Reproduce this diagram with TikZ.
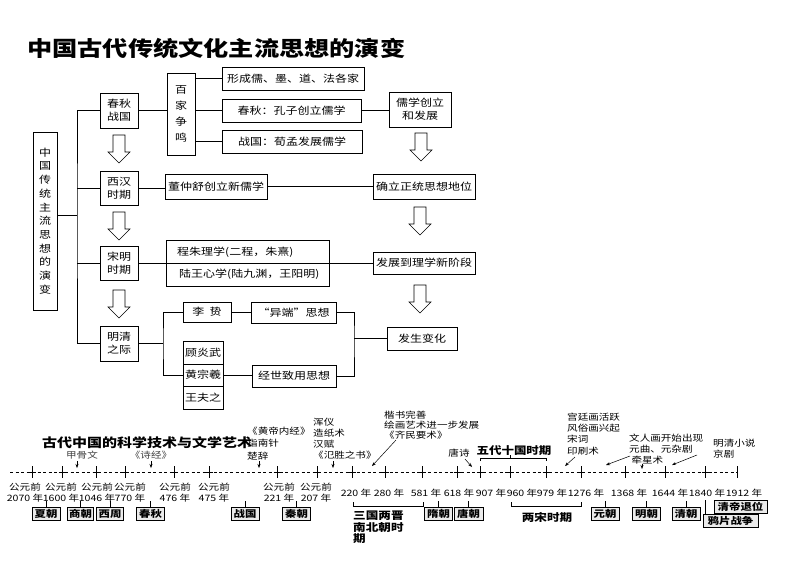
\documentclass[tikz,border=0pt]{standalone}
\usepackage{fontspec}
\setmainfont{Noto Sans CJK SC}[FakeStretch=1.2]
\usetikzlibrary{arrows.meta}
\newcommand\fsz[2]{\fontsize{#1}{#2}\selectfont}
\begin{document}
\begin{tikzpicture}[x=1pt,y=-1pt,
  box/.style={draw,line width=0.6pt,inner sep=0pt,align=center,font=\fsz{10}{13}},
  ln/.style={line width=0.6pt},
  dyn/.style={draw,line width=0.8pt,fill=black!8,inner sep=0pt,minimum height=13pt,font=\bfseries\fsz{9.5}{11}},
  yrs/.style={align=center,inner sep=0pt,font=\fsz{8.8}{11}},
  ann/.style={align=left,inner sep=0pt,anchor=north west},
  tarr/.style={-{Stealth[length=4pt,width=3pt]},line width=0.5pt},
  harrow/.pic={\draw[line width=0.6pt,fill=white] (-6,0) -- (6,0) -- (6,17) -- (11,17) -- (0,28) -- (-11,17) -- (-6,17) -- cycle;}
]
\fill[white] (0,0) rectangle (800,566);
\useasboundingbox (0,0) rectangle (800,566);

% ---------- title ----------
\node[anchor=west,inner sep=0pt,font=\bfseries\fsz{21}{24}] (title) at (27,48) {中国古代传统文化主流思想的演变};

% ---------- flowchart ----------
\node[box,minimum width=24pt,minimum height=178pt,font=\fsz{10}{13.7}] (L) at (45,221) {中\\国\\传\\统\\主\\流\\思\\想\\的\\演\\变};
\node[box,minimum width=38pt,minimum height=35pt] (CQ) at (119,110.5) {春秋\\战国};
\node[box,minimum width=38pt,minimum height=34pt] (XH) at (119,188) {西汉\\时期};
\node[box,minimum width=38pt,minimum height=34pt] (SM) at (119,263) {宋明\\时期};
\node[box,minimum width=38pt,minimum height=35pt] (MQ) at (119,343.5) {明清\\之际};

\pic at (119,135) {harrow};
\pic at (119,212) {harrow};
\pic at (119,290) {harrow};

\node[box,minimum width=28pt,minimum height=82pt,font=\fsz{10}{16}] (BJ) at (181,114) {百\\家\\争\\鸣};
\node[box,minimum width=142pt,minimum height=23pt] (B1) at (293,78.5) {形成儒、墨、道、法各家};
\node[box,minimum width=139pt,minimum height=23pt] (B2) at (291.5,110.5) {春秋：孔子创立儒学};
\node[box,minimum width=140pt,minimum height=23pt] (B3) at (292,141.5) {战国：荀孟发展儒学};
\node[box,minimum width=62pt,minimum height=35pt] (RX) at (420,109.5) {儒学创立\\和发展};
\pic at (421,133) {harrow};

\node[box,minimum width=102pt,minimum height=25pt] (DZ) at (216,186.5) {董仲舒创立新儒学};
\node[box,minimum width=102pt,minimum height=25pt] (QL) at (424,186.5) {确立正统思想地位};
\pic at (420,207) {harrow};

\node[box,minimum width=163pt,minimum height=46pt] (CZ) at (247.5,263) {};
\node[anchor=west,inner sep=0pt,font=\fsz{10}{13}] (cz1) at (177,252) {程朱理学(二程，朱熹)};
\node[anchor=west,inner sep=0pt,font=\fsz{10}{13}] (cz2) at (179,274) {陆王心学(陆九渊，王阳明)};
\node[box,minimum width=102pt,minimum height=22pt] (FZ) at (424,263) {发展到理学新阶段};
\pic at (420,285) {harrow};

\node[box,minimum width=70pt,minimum height=23pt] (FS) at (422,338.5) {发生变化};
\node[box,minimum width=48pt,minimum height=20pt] (LZ) at (207,312) {李\ \ 贽};
\node[box,minimum width=85pt,minimum height=21pt] (YD) at (293.5,312.5) {“异端”思想};
\node[box,minimum width=40pt,minimum height=23pt] (GY) at (203,352.5) {顾炎武};
\node[box,minimum width=40pt,minimum height=22pt] (HZ) at (203,375) {黄宗羲};
\node[box,minimum width=40pt,minimum height=23pt] (WF) at (203,397.5) {王夫之};
\node[box,minimum width=84pt,minimum height=22pt] (JS) at (294,376) {经世致用思想};

% connectors
\coordinate (sp) at (77,215);
\coordinate (mb) at (163,343.5);
\coordinate (rb) at (354,338.5);
\draw[ln] (L.east |- sp) -- (sp);
\draw[ln] (CQ.west) -| (sp) |- (MQ.west);
\draw[ln] (XH.west) -- (XH.west -| sp);
\draw[ln] (SM.west) -- (SM.west -| sp);
\draw[ln] (CQ.east) -- (CQ.east -| BJ.west);
\draw[ln] (B1.west -| BJ.east) -- (B1.west);
\draw[ln] (B2.west -| BJ.east) -- (B2.west);
\draw[ln] (B3.west -| BJ.east) -- (B3.west);
\draw[ln] (B2.east) -- (B2.east -| RX.west);
\draw[ln] (XH.east) -- (XH.east -| DZ.west);
\draw[ln] (DZ.east) -- (QL.west);
\draw[ln] (SM.east) -- (FZ.west);
\draw[ln] (MQ.east) -- (mb);
\draw[ln] (LZ.west) -| (mb) |- (HZ.west);
\draw[ln] (LZ.east) -- (LZ.east -| YD.west);
\draw[ln] (HZ.east) -- (HZ.east -| JS.west);
\draw[ln] (YD.east) -| (rb) |- (JS.east);
\draw[ln] (rb) -- (FS.west);

% ---------- timeline ----------
\coordinate (tend) at (737,472);
\draw[line width=0.5pt,dash pattern=on 3pt off 2.5pt] (10,472) -- (tend);
\foreach \n/\x in {a/32,b/62,c/96,d/125,e/174,f/209,g/277,h/317,i/352,j/385,k/422,l/457,m/480,n/510,o/546,p/581,q/625,r/665,s/705}{
  \coordinate (tk\n) at (\x,472);
  \draw[ln] (\x,466) -- (\x,478) (\x-3.5,472) -- (\x+3.5,472);
}
\draw[ln] (tend) ++(0,-6) -- ++(0,12);

% annotations above
\node[inner sep=0pt,font=\fsz{8.8}{11},text=black!75] (jgw) at (82,455) {甲骨文};
\node[inner sep=0pt,font=\fsz{8.8}{11},text=black!75] (sj) at (151,455) {《诗经》};
\node[ann,font=\fsz{8.8}{12.5}] (hd) at (247,426.5) {《黄帝内经》\\指南针\\楚辞};
\node[ann,font=\fsz{8.8}{11}] (hy) at (313,417.5) {浑仪\\造纸术\\汉赋\\《氾胜之书》};
\node[ann,font=\fsz{8.8}{10.2}] (ks) at (384,410.5) {楷书完善\\绘画艺术进一步发展\\《齐民要术》};
\node[inner sep=0pt,font=\fsz{8.8}{11}] (tsh) at (459,453) {唐诗};
\node[inner sep=0pt,font=\bfseries\fsz{10.4}{12}] (wd) at (514,451) {五代十国时期};
\node[ann,font=\fsz{8.8}{11.3}] (gt) at (567,412.5) {宫廷画活跃\\风俗画兴起\\宋词\\印刷术};
\node[ann,font=\fsz{8.8}{11}] (wr) at (629,433.5) {文人画开始出现\\元曲、元杂剧\\\ 牵星术};
\node[ann,font=\fsz{8.8}{11}] (mx) at (713,438.5) {明清小说\\京剧};

\node[inner sep=0pt,font=\bfseries\fsz{12.5}{14}] (title2) at (147,443) {古代中国的科学技术与文学艺术};

% arrows to the line
\coordinate (a1s) at (77,461);  \coordinate (a1e) at (77,468);
\coordinate (a2s) at (151,461); \coordinate (a2e) at (151,468);
\coordinate (a3s) at (259,461); \coordinate (a3e) at (259,468);
\coordinate (a4s) at (333,461); \coordinate (a4e) at (333,468);
\coordinate (a5s) at (396,440); \coordinate (a5e) at (372,466);
\coordinate (a6s) at (465,459); \coordinate (a6e) at (472,467);
\coordinate (a7s) at (575,457); \coordinate (a7e) at (565,466);
\coordinate (a8s) at (630,456); \coordinate (a8e) at (606,465);
\coordinate (a9s) at (642,464); \coordinate (a9e) at (642,469);
\coordinate (a10s) at (697,455); \coordinate (a10e) at (672,465);
\foreach \k in {1,...,10}{\draw[tarr] (a\k s) -- (a\k e);}

% bracket for 五代十国
\draw[ln] (480,461) -- (480,458) -- (546,458) -- (546,461) (510,458) -- (510,455);

% year labels
\foreach \n/\x/\yy in {ya/25/2070,yb/61/1600,yc/97/1046,yd/130/770,ye/175/476,yf/214/475,yg/279/221,yh/316/207}{
  \node[yrs] (\n) at (\x,492.5) {公元前\\\yy\ 年};
}
\foreach \n/\x/\yy in {yi/356/220,yj/389/280,yk/426/581,yl/459/618,ym/491/907,yn/522/960,yo/552/979,yp/586/1276,yq/629/1368,yr/670/1644,ys/707/1840,yt/744/1912}{
  \node[yrs] (\n) at (\x,493.5) {\yy\ 年};
}

% dynasty boxes
\foreach \n/\x/\w/\tx in {xia/46/28/夏朝,shang/80.5/26/商朝,xz/110/27/西周,cq/150.5/28/春秋,zg/245/28/战国,qin/296.5/28/秦朝,sui/438.5/28/隋朝,tang/468.5/29/唐朝,yuan/605/28/元朝,ming/646.5/28/明朝,qing/686/28/清朝}{
  \node[dyn,minimum width=\w pt] (\n) at (\x,514) {\tx};
  \draw[ln] (\n.north) -- ++(0,-6);
}
\node[dyn,minimum width=53pt] (qd) at (740.5,507) {清帝退位};
\node[dyn,minimum width=55pt] (ypz) at (730.5,521) {鸦片战争};
\draw[ln] (ypz.north -| tks) -- ++(0,-14);

% brackets below
\draw[ln] (353,502) -- (353,506) -- (423,506) -- (423,502);
\node[ann,font=\bfseries\fsz{10.5}{11.5}] (sg) at (353,511) {三国两晋\\南北朝时\\期};
\draw[ln] (511,502) -- (511,506) -- (581,506) -- (581,502);
\node[inner sep=0pt,font=\bfseries\fsz{10.5}{12}] (ls) at (547,517) {两宋时期};
\end{tikzpicture}
\end{document}
